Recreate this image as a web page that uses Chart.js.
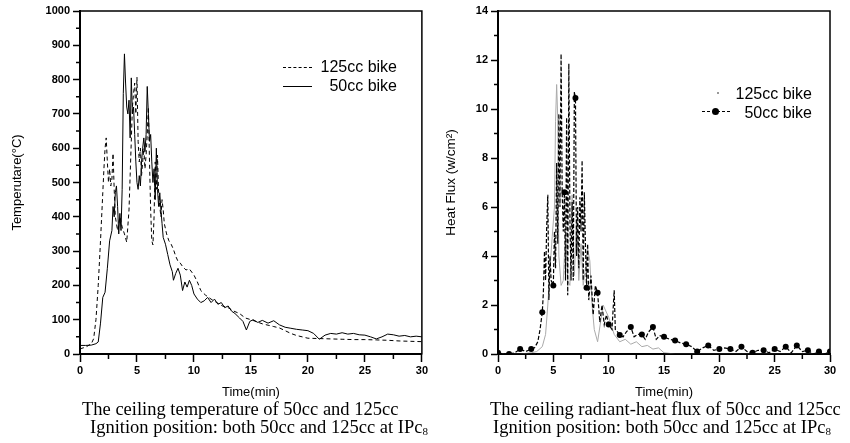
<!DOCTYPE html>
<html>
<head>
<meta charset="utf-8">
<script src="https://cdn.jsdelivr.net/npm/chart.js@4.4.1/dist/chart.umd.min.js"></script>
<style>
  body { margin: 0; width: 850px; height: 443px; background: #fff; position: relative; overflow: hidden; font-family: "Liberation Sans", Arial, sans-serif; }
  canvas { position: absolute; top: 0; }
  #tempChart { left: 0; }
  #fluxChart { left: 425px; }
  .cap { position: absolute; font-family: "Liberation Serif", "Times New Roman", serif; font-size: 18.5px; line-height: 18px; white-space: nowrap; color: #000; }
  .cap sub { font-size: 11px; vertical-align: -2px; line-height: 0; }
  .lg { position: absolute; font-size: 16px; line-height: 18px; white-space: nowrap; color: #000; }
  .sym { position: absolute; }
</style>
</head>
<body>
<canvas id="tempChart" width="430" height="400"></canvas>
<canvas id="fluxChart" width="425" height="400"></canvas>

<!-- legends -->
<div class="sym" style="left:283px;top:67px;width:29px;border-top:1px dashed #000"></div>
<div class="lg" style="right:453px;top:58px">125cc bike</div>
<div class="sym" style="left:283px;top:86px;width:29px;border-top:1px solid #000"></div>
<div class="lg" style="right:453px;top:77px">50cc bike</div>

<div class="sym" style="left:717px;top:92px;width:2px;height:2px;background:#999"></div>
<div class="lg" style="right:38px;top:85px">125cc bike</div>
<div class="sym" style="left:702px;top:111px;width:28px;border-top:1px dashed #000"></div>
<div class="sym" style="left:712px;top:108px;width:7px;height:7px;border-radius:50%;background:#000"></div>
<div class="lg" style="right:38px;top:104px">50cc bike</div>

<!-- captions -->
<div class="cap" style="left:82px;top:400px">The ceiling temperature of 50cc and 125cc</div>
<div class="cap" style="left:90px;top:418px">Ignition position: both 50cc and 125cc at IPc<sub>8</sub></div>
<div class="cap" style="left:490px;top:400px">The ceiling radiant-heat flux of 50cc and 125cc</div>
<div class="cap" style="left:493px;top:418px">Ignition position: both 50cc and 125cc at IPc<sub>8</sub></div>

<script>
// ceiling temperature, 50cc bike (solid)
const time50T = [0, 0.5, 1, 1.4, 1.6, 1.8, 2, 2.2, 2.4, 2.6,
  2.8, 2.9, 3, 3.1, 3.2, 3.3, 3.4, 3.5, 3.6, 3.7,
  3.8, 3.9, 4, 4.1, 4.2, 4.3, 4.4, 4.5, 4.6, 4.7,
  4.8, 4.9, 5, 5.1, 5.2, 5.3, 5.4, 5.5, 5.6, 5.7,
  5.8, 5.9, 6, 6.1, 6.2, 6.3, 6.4, 6.5, 6.6, 6.7,
  6.8, 6.9, 7, 7.1, 7.2, 7.3, 7.5, 7.7, 7.9, 8.1,
  8.2, 8.4, 8.6, 8.8, 9, 9.2, 9.4, 9.6, 9.8, 10,
  10.3, 10.6, 10.9, 11.2, 11.5, 11.8, 12.1, 12.4, 12.7, 13,
  13.3, 13.6, 14, 14.3, 14.6, 14.9, 15.2, 15.6, 16, 16.5,
  17, 17.5, 18, 18.5, 19, 19.5, 20, 20.5, 21, 21.5,
  22, 22.5, 23, 23.5, 24, 24.5, 25, 25.5, 26, 26.5,
  27, 27.5, 28, 28.5, 29, 29.5, 30];
const temp50 = [25, 25, 26, 30, 35, 90, 165, 180, 250, 330,
  360, 430, 400, 470, 490, 430, 350, 410, 360, 480,
  760, 875, 790, 720, 700, 740, 630, 805, 700, 720,
  640, 560, 500, 480, 520, 490, 560, 600, 630, 590,
  640, 780, 700, 620, 640, 560, 500, 540, 450, 600,
  480, 430, 470, 420, 380, 340, 320, 290, 260, 240,
  215, 235, 250, 230, 185, 210, 195, 215, 200, 175,
  160, 150, 155, 165, 150, 160, 145, 150, 135, 140,
  125, 118, 105, 95, 70, 95, 100, 92, 98, 90,
  97, 85, 78, 75, 72, 70, 68, 60, 43, 55,
  60, 58, 62, 58, 60, 56, 55, 50, 44, 50,
  58, 56, 52, 54, 50, 52, 50];

// ceiling temperature, 125cc bike (dashed)
const time125T = [0, 0.5, 1, 1.2, 1.4, 1.6, 1.8, 2, 2.1, 2.2,
  2.3, 2.4, 2.5, 2.6, 2.7, 2.8, 2.9, 3, 3.1, 3.2,
  3.3, 3.5, 3.7, 3.9, 4.1, 4.3, 4.4, 4.5, 4.6, 4.7,
  4.8, 4.9, 5, 5.1, 5.2, 5.3, 5.4, 5.5, 5.6, 5.7,
  5.8, 5.9, 6, 6.1, 6.2, 6.3, 6.4, 6.5, 6.6, 6.7,
  6.8, 6.9, 7, 7.1, 7.2, 7.3, 7.4, 7.6, 7.8, 8,
  8.2, 8.4, 8.6, 8.8, 9, 9.3, 9.6, 10, 10.3, 10.6,
  11, 11.5, 12, 12.5, 13, 13.5, 14, 14.5, 15, 15.5,
  16, 16.5, 17, 17.5, 18, 18.5, 19, 19.5, 20, 21,
  22, 23, 24, 25, 26, 27, 28, 29, 30];
const temp125 = [15, 20, 30, 45, 100, 200, 330, 470, 540, 600,
  630, 560, 500, 540, 490, 510, 585, 480, 400, 380,
  360, 400, 370, 350, 326, 420, 520, 620, 720, 760,
  790, 700, 807, 620, 560, 600, 520, 560, 600, 540,
  580, 640, 720, 560, 420, 330, 318, 400, 560, 480,
  580, 470, 430, 400, 450, 420, 380, 350, 330, 320,
  305, 285, 270, 265, 255, 245, 248, 230, 210, 185,
  172, 160, 150, 140, 135, 125, 118, 105, 100, 94,
  88, 84, 80, 76, 68, 60, 54, 50, 46, 45,
  44, 43, 42, 42, 41, 40, 38, 37, 36];

// ceiling radiant-heat flux, 50cc bike (dashed + dots)
const time50F = [0, 0.5, 1, 1.5, 2, 2.5, 3, 3.3, 3.6, 3.8,
  4, 4.1, 4.2, 4.3, 4.4, 4.5, 4.6, 4.7, 4.8, 5,
  5.1, 5.2, 5.3, 5.4, 5.5, 5.6, 5.7, 5.8, 5.9, 6,
  6.1, 6.2, 6.3, 6.4, 6.5, 6.6, 6.7, 6.8, 6.9, 7,
  7.1, 7.2, 7.3, 7.4, 7.5, 7.6, 7.7, 7.8, 7.9, 8,
  8.1, 8.2, 8.4, 8.6, 8.8, 9, 9.2, 9.4, 9.6, 9.8,
  10, 10.3, 10.5, 10.6, 10.8, 11, 11.3, 11.6, 12, 12.3,
  12.6, 13, 13.3, 13.6, 14, 14.3, 14.6, 15, 15.5, 16,
  16.5, 17, 17.5, 18, 18.5, 19, 19.5, 20, 20.5, 21,
  21.5, 22, 22.5, 23, 23.5, 24, 24.5, 25, 25.5, 26,
  26.5, 27, 27.5, 28, 28.5, 29, 29.5, 30];
const flux50 = [0.05, 0, 0, 0.05, 0.2, 0.1, 0.2, 0.25, 0.5, 1.0,
  1.7, 2.5, 4.2, 3.0, 5.2, 6.5, 2.2, 4.0, 3.0, 2.8,
  5.0, 3.5, 7.8, 4.5, 9.8, 6.0, 12.25, 6.6, 5.0, 6.6,
  3.0, 9.65, 2.4, 11.85, 5.5, 3.0, 6.2, 3.0, 10.7, 10.45,
  4.0, 6.0, 3.5, 6.4, 5.0, 7.9, 3.0, 6.6, 4.5, 2.7,
  4.5, 2.2, 3.2, 1.6, 2.8, 2.5, 1.3, 2.0, 1.2, 1.6,
  1.2, 1.0, 2.6, 1.0, 0.9, 0.78, 0.7, 0.9, 1.1, 0.7,
  0.8, 0.8, 0.6, 0.9, 1.1, 0.6, 0.75, 0.7, 0.6, 0.55,
  0.45, 0.4, 0.3, 0.1, 0.25, 0.35, 0.15, 0.2, 0.25, 0.2,
  0.1, 0.3, 0.1, 0.05, 0.15, 0.15, 0.05, 0.2, 0.1, 0.3,
  0.05, 0.35, 0.1, 0.15, 0, 0.1, 0, 0.1];

// ceiling radiant-heat flux, 125cc bike (light grey)
const time125F = [0, 1, 2, 3, 3.5, 4, 4.3, 4.5, 4.7, 4.9,
  5.1, 5.2, 5.3, 5.4, 5.5, 5.7, 5.9, 6.1, 6.3, 6.5,
  6.7, 6.9, 7.1, 7.3, 7.5, 7.7, 7.9, 8.1, 8.3, 8.5,
  8.7, 9, 9.5, 10, 10.5, 11, 11.5, 12, 12.5, 13,
  13.5, 14, 14.5, 15, 16, 18, 20, 22, 24, 26,
  28, 30];
const flux125 = [0, 0, 0, 0.05, 0.1, 0.3, 0.8, 2.0, 3.5, 4.8,
  6.0, 9.5, 11.0, 9.6, 4.0, 2.8, 3.0, 5.0, 3.0, 2.8,
  6.5, 3.2, 5.5, 3.0, 4.5, 2.8, 3.5, 4.3, 3.8, 2.0,
  1.0, 0.5, 2.0, 1.5, 0.8, 0.5, 0.6, 0.4, 0.5, 0.3,
  0.35, 0.2, 0.25, 0.05, 0, 0, 0, 0, 0, 0,
  0, 0];

const xTicks = [0, 5, 10, 15, 20, 25, 30];

Chart.defaults.font.family = '"Liberation Sans", Arial, sans-serif';
Chart.defaults.color = '#000';

const toPoints = (t, v) => t.map((x, i) => ({ x: x, y: v[i] }));

// box round the plot and the short minor ticks between the labelled ones
const frame = {
  id: 'frame',
  afterDraw(chart, args, opts) {
    const { ctx, chartArea: a, scales: { x, y } } = chart;
    ctx.save();
    ctx.strokeStyle = '#000';
    ctx.lineWidth = 1.5;
    ctx.strokeRect(a.left, a.top, a.right - a.left, a.bottom - a.top);
    ctx.beginPath();
    for (let v = opts.xMinor; v < x.max; v += opts.xMinor * 2) {
      const px = x.getPixelForValue(v);
      ctx.moveTo(px, a.bottom);
      ctx.lineTo(px, a.bottom + 5);
    }
    for (let v = opts.yMinor; v < y.max; v += opts.yMinor * 2) {
      const py = y.getPixelForValue(v);
      ctx.moveTo(a.left, py);
      ctx.lineTo(a.left - 4, py);
    }
    ctx.stroke();
    ctx.restore();
  }
};

function axes(yMax, yStep, yWidth, yTitle, titleSize, titlePad) {
  return {
    x: {
      type: 'linear', min: 0, max: 30,
      afterBuildTicks: s => { s.ticks = xTicks.map(v => ({ value: v })); },
      afterFit: s => { s.height = 46; },
      ticks: { font: { size: 11, weight: 'bold' }, padding: 2, maxRotation: 0 },
      grid: { drawOnChartArea: false, tickLength: 8, tickColor: '#000', tickWidth: 1.5 },
      border: { color: '#000', width: 2 },
      title: { display: true, text: 'Time(min)', font: { size: 13 }, padding: { top: 0, bottom: 0 } }
    },
    y: {
      min: 0, max: yMax,
      afterFit: s => { s.width = yWidth; },
      ticks: { stepSize: yStep, font: { size: 11, weight: 'bold' }, padding: 3, callback: v => String(v) },
      grid: { drawOnChartArea: false, tickLength: 7, tickColor: '#000', tickWidth: 1.5 },
      border: { color: '#000', width: 2 },
      title: { display: true, text: yTitle, font: { size: titleSize }, padding: { top: titlePad, bottom: 0 } }
    }
  };
}

const common = {
  responsive: false,
  animation: false,
  plugins: { legend: { display: false }, tooltip: { enabled: false } }
};

new Chart(document.getElementById('tempChart'), {
  type: 'line',
  data: {
    datasets: [
      {
        label: '50cc bike',
        data: toPoints(time50T, temp50),
        borderColor: '#000', borderWidth: 1, pointRadius: 0, tension: 0, order: 1
      },
      {
        label: '125cc bike',
        data: toPoints(time125T, temp125),
        borderColor: '#000', borderWidth: 1, borderDash: [4, 3], pointRadius: 0, tension: 0, order: 2
      }
    ]
  },
  options: {
    ...common,
    layout: { padding: { left: 0, top: 11, right: 7, bottom: 0 } },
    scales: axes(1000, 100, 80, 'Temperutare(\u00B0C)', 13, 10),
    plugins: { ...common.plugins, frame: { xMinor: 2.5, yMinor: 50 } }
  },
  plugins: [frame]
});

new Chart(document.getElementById('fluxChart'), {
  type: 'line',
  data: {
    datasets: [
      {
        label: '50cc bike',
        data: toPoints(time50F, flux50),
        borderColor: '#000', backgroundColor: '#000', borderWidth: 1.2, borderDash: [4, 2],
        pointRadius: c => Number.isInteger(c.raw.x) ? 3 : 0,
        pointBorderWidth: 0, tension: 0, order: 1
      },
      {
        label: '125cc bike',
        data: toPoints(time125F, flux125),
        borderColor: '#aaa', borderWidth: 1, pointRadius: 0, tension: 0, order: 2
      }
    ]
  },
  options: {
    ...common,
    layout: { padding: { left: 0, top: 11, right: 20, bottom: 0 } },
    scales: axes(14, 2, 73, 'Heat Flux (w/cm\u00B2)', 13.5, 18),
    plugins: { ...common.plugins, frame: { xMinor: 2.5, yMinor: 1 } }
  },
  plugins: [frame]
});
</script>
</body>
</html>
